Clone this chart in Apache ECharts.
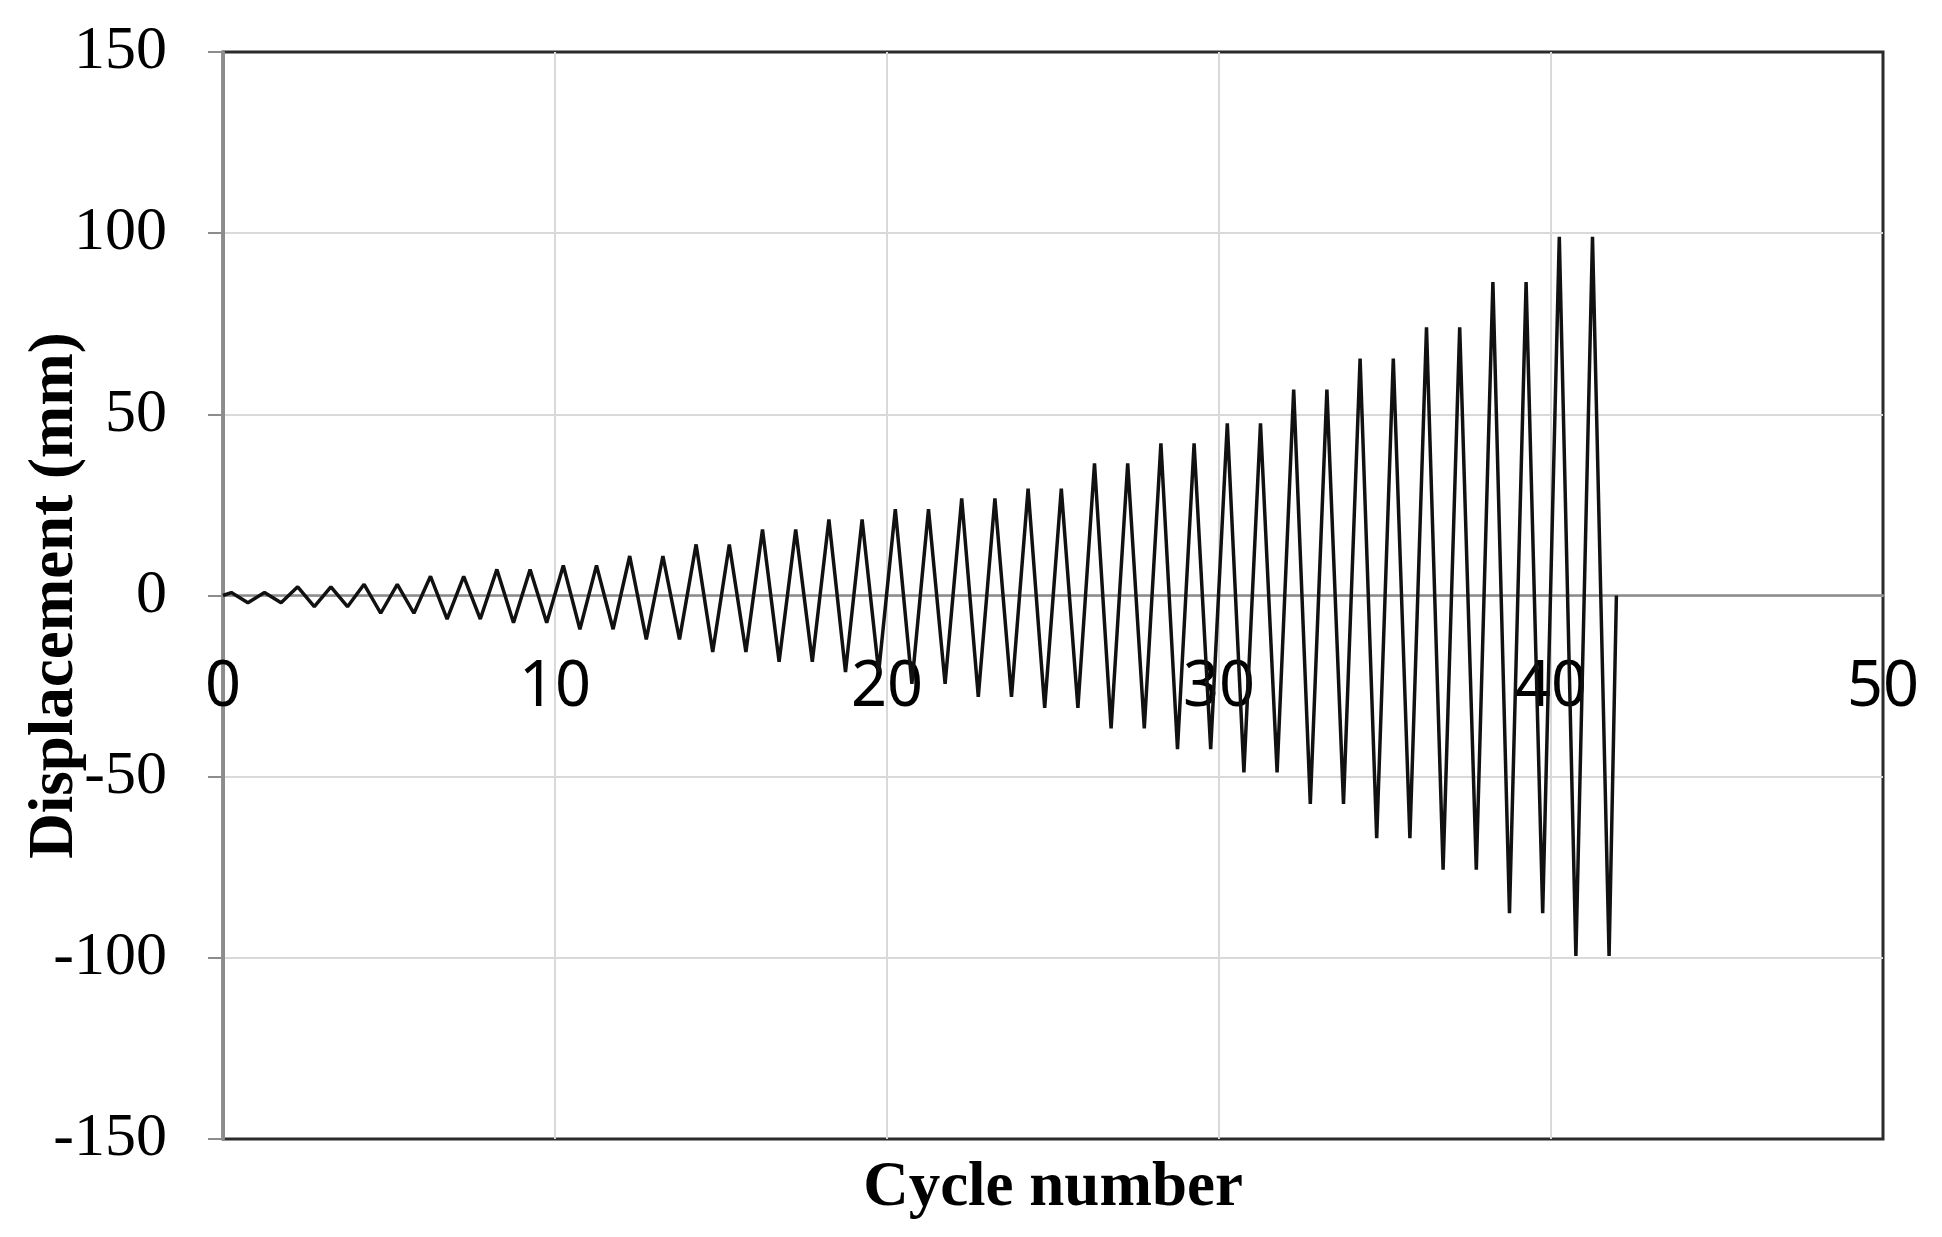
<!DOCTYPE html>
<html>
<head>
<meta charset="utf-8">
<script src="https://cdn.jsdelivr.net/npm/echarts@6/dist/echarts.min.js"></script>
<style>
  html, body { margin: 0; padding: 0; background: #fff; }
  #chart { width: 1942px; height: 1237px; }
</style>
</head>
<body>
<div id="chart"></div>
<script>
// Cycle number (x) of each turning point of the loading history
const cycle = [
  0,
  0.25, 0.75, 1.25, 1.75, 2.25, 2.75, 3.25, 3.75, 4.25, 4.75,
  5.25, 5.75, 6.25, 6.75, 7.25, 7.75, 8.25, 8.75, 9.25, 9.75,
  10.25, 10.75, 11.25, 11.75, 12.25, 12.75, 13.25, 13.75, 14.25, 14.75,
  15.25, 15.75, 16.25, 16.75, 17.25, 17.75, 18.25, 18.75, 19.25, 19.75,
  20.25, 20.75, 21.25, 21.75, 22.25, 22.75, 23.25, 23.75, 24.25, 24.75,
  25.25, 25.75, 26.25, 26.75, 27.25, 27.75, 28.25, 28.75, 29.25, 29.75,
  30.25, 30.75, 31.25, 31.75, 32.25, 32.75, 33.25, 33.75, 34.25, 34.75,
  35.25, 35.75, 36.25, 36.75, 37.25, 37.75, 38.25, 38.75, 39.25, 39.75,
  40.25, 40.75, 41.25, 41.75,
  41.97
];
// Displacement (mm) at each turning point
const displacement = [
  0,
  0.8, -2.0, 0.8, -2.0,
  2.4, -3.1, 2.4, -3.1,
  3.1, -4.9, 3.1, -4.9,
  5.3, -6.5, 5.3, -6.5,
  7.2, -7.5, 7.2, -7.5,
  8.3, -9.3, 8.3, -9.3,
  10.9, -12.1, 10.9, -12.1,
  14.1, -15.6, 14.1, -15.6,
  18.2, -18.3, 18.2, -18.3,
  21.0, -21.1, 21.0, -21.1,
  23.8, -24.4, 23.8, -24.4,
  26.8, -28.0, 26.8, -28.0,
  29.5, -31.0, 29.5, -31.0,
  36.5, -36.7, 36.5, -36.7,
  42.0, -42.4, 42.0, -42.4,
  47.5, -48.8, 47.5, -48.8,
  56.8, -57.5, 56.8, -57.5,
  65.4, -67.0, 65.4, -67.0,
  74.0, -75.7, 74.0, -75.7,
  86.5, -87.7, 86.5, -87.7,
  99.0, -99.5, 99.0, -99.5,
  0
];
const xTicks = { min: 0, max: 50, interval: 10 };
const yTicks = { min: -150, max: 150, interval: 50 };
const xTitle = 'Cycle number';
const yTitle = 'Displacement (mm)';

const seriesData = cycle.map((c, i) => [c, displacement[i]]);

// Layout
const GRID = { left: 223, top: 52, width: 1660, height: 1087 };
// the x axis runs along y = 0: shift it up from the bottom edge
const zeroOffset = -GRID.height * (0 - yTicks.min) / (yTicks.max - yTicks.min);

const chart = echarts.init(document.getElementById('chart'), null, { renderer: 'canvas' });
chart.setOption({
  animation: false,
  backgroundColor: '#ffffff',
  grid: {
    left: GRID.left, top: GRID.top, width: GRID.width, height: GRID.height,
    containLabel: false,
    outerBoundsMode: 'none',
    show: true,
    borderColor: '#2b2b2b',
    borderWidth: 3,
    backgroundColor: 'transparent'
  },
  xAxis: [
    {
      type: 'value',
      position: 'bottom',
      offset: zeroOffset,
      min: xTicks.min, max: xTicks.max, interval: xTicks.interval,
      axisLine: { show: true, onZero: false, lineStyle: { color: '#8c8c8c', width: 2.5 } },
      axisTick: { show: false },
      splitLine: { show: true, showMinLine: false, showMaxLine: false, lineStyle: { color: '#d9d9d9', width: 2 } },
      axisLabel: {
        fontFamily: 'Noto Sans', fontSize: 63, color: '#000', margin: 61,
        hideOverlap: false, showMinLabel: true, showMaxLabel: true
      }
    },
    {
      type: 'value',
      position: 'bottom',
      offset: 0,
      min: xTicks.min, max: xTicks.max,
      axisLine: { show: false, onZero: false },
      axisTick: { show: false },
      axisLabel: { show: false },
      splitLine: { show: false },
      name: xTitle,
      nameLocation: 'middle',
      nameGap: 18,
      nameMoveOverlap: false,
      nameTextStyle: {
        fontFamily: 'Liberation Serif', fontWeight: 'bold', fontSize: 63, color: '#000',
        verticalAlign: 'top'
      }
    }
  ],
  yAxis: {
    type: 'value',
    min: yTicks.min, max: yTicks.max, interval: yTicks.interval,
    axisLine: { show: true, onZero: false, lineStyle: { color: '#8c8c8c', width: 3 } },
    axisTick: { show: true, length: 15, lineStyle: { color: '#8c8c8c', width: 2 } },
    splitLine: { show: true, showMinLine: false, showMaxLine: false, lineStyle: { color: '#d9d9d9', width: 2 } },
    axisLabel: { fontFamily: 'Liberation Serif', fontSize: 62, color: '#000', margin: 56 },
    name: yTitle,
    nameLocation: 'middle',
    nameGap: 136,
    nameMoveOverlap: false,
    nameTextStyle: { fontFamily: 'Liberation Serif', fontWeight: 'bold', fontSize: 63, color: '#000' }
  },
  series: [
    {
      type: 'line',
      xAxisIndex: 0,
      yAxisIndex: 0,
      data: seriesData,
      showSymbol: false,
      symbol: 'none',
      lineStyle: { color: '#111111', width: 3.5 },
      z: 3
    }
  ]
});
</script>
</body>
</html>
